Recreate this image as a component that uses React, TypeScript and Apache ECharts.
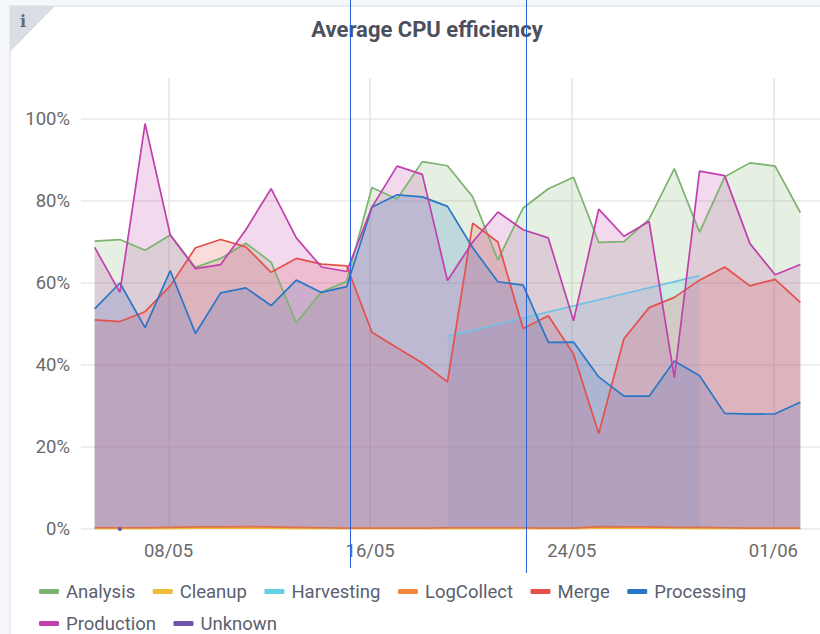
import React, { useEffect, useRef } from "react";
import * as echarts from "echarts";

const title = "Average CPU efficiency";
const tickDays = [3, 11, 19, 27];
const tickLabels = ["08/05", "16/05", "24/05", "01/06"];
const yTicks = [0, 20, 40, 60, 80, 100];

const analysis = [70.2, 70.6, 68, 71.7, 63.8, 66, 69.7, 65.1, 50.3, 57.8, 60.4, 83.3, 80.5, 89.6, 88.6, 81, 65.6, 78.3, 83, 85.8, 69.9, 70.1, 75.6, 87.9, 72.4, 85.9, 89.3, 88.5, 77.2];
const cleanup = [0.1, 0.1, 0.1, 0.1, 0.2, 0.2, 0.2, 0.2, 0.1, 0.1, 0.1, 0.1, 0.1, 0.1, 0.1, 0.1, 0.1, 0.1, 0.1, 0.1, 0.2, 0.2, 0.2, 0.2, 0.1, 0.1, 0.1, 0.1, 0.1];
const harvestingDays = [14, 24];
const harvesting = [47, 61.8];
const logCollect = [0.3, 0.3, 0.3, 0.4, 0.5, 0.5, 0.6, 0.5, 0.4, 0.3, 0.2, 0.2, 0.2, 0.2, 0.3, 0.3, 0.3, 0.3, 0.2, 0.2, 0.6, 0.5, 0.5, 0.4, 0.4, 0.3, 0.2, 0.2, 0.2];
const merge = [51, 50.6, 53, 59.3, 68.6, 70.6, 68.8, 62.6, 66, 64.6, 64.2, 48, 44.2, 40.5, 35.9, 74.6, 70, 48.9, 52, 42.7, 23.3, 46.4, 54, 56.5, 60.7, 63.9, 59.3, 60.9, 55.3];
const processing = [53.7, 60, 49.1, 63, 47.7, 57.6, 58.8, 54.5, 60.7, 57.7, 59.1, 78.5, 81.5, 81, 78.7, 68.6, 60.3, 59.5, 45.5, 45.6, 37.1, 32.4, 32.4, 41, 37.4, 28.2, 28, 28.1, 30.9];
const production = [68.7, 57.7, 98.9, 71.7, 63.5, 64.5, 73, 83, 71, 63.9, 62.8, 78.5, 88.5, 86.5, 60.6, 70, 77.3, 73, 71, 50.8, 78, 71.4, 75, 36.9, 87.3, 86.2, 69.6, 62, 64.5];
const unknownDays = [1];
const unknown = [0];

const names = ["Analysis", "Cleanup", "Harvesting", "LogCollect", "Merge", "Processing", "Production", "Unknown"];
const colors = ["#7cb36f", "#eebc3d", "#63d1e4", "#f4873c", "#e4504b", "#2a77c6", "#c040ac", "#6d54a6"];
const lineColors = ["#7cb36f", "#eebc3d", "#74c0e2", "#de7148", "#e4504b", "#2a77c6", "#c040ac", "#6d54a6"];

const SHIFT = 0.07;
const daily = (vals: number[]) => vals.map((v, i) => [i + SHIFT, v]);
const sparse = (days: number[], vals: number[]) => vals.map((v, i) => [days[i] + SHIFT, v]);

const seriesData = [
  daily(analysis),
  daily(cleanup),
  sparse(harvestingDays, harvesting),
  daily(logCollect),
  daily(merge),
  daily(processing),
  daily(production),
  sparse(unknownDays, unknown),
];

const legendBase = {
  left: 34,
  width: 785,
  itemWidth: 20,
  itemHeight: 5,
  itemGap: 17.5,
  icon: "roundRect",
  textStyle: {
    fontFamily: "Roboto",
    fontSize: 18.5,
    color: "#5a6070",
    padding: [0, 0, 0, 2],
  },
};

export default function App() {
  const ref = useRef<HTMLDivElement>(null);
  useEffect(() => {
    const chart = echarts.init(ref.current!, undefined, { renderer: "svg" });
    chart.setOption({
      animation: false,
      color: colors,
      textStyle: { fontFamily: "Roboto" },
      title: {
        text: title,
        left: 422,
        top: 13,
        textAlign: "center",
        textStyle: { fontFamily: "Roboto", fontSize: 22, fontWeight: 700, color: "#4b505c" },
      },
      legend: [
        { ...legendBase, top: 577, data: names.slice(0, 6) },
        { ...legendBase, top: 609, data: names.slice(6) },
      ],
      grid: { left: 81, right: 0, top: 78, bottom: 105 },
      xAxis: {
        type: "value",
        min: -0.472,
        max: 28.85,
        axisLine: { show: false },
        axisTick: { show: false, customValues: tickDays },
        axisLabel: {
          customValues: tickDays,
          formatter: (v: number) => tickLabels[tickDays.indexOf(v)] ?? "",
          fontSize: 18.5,
          color: "#6a6a6a",
          margin: 12,
          fontFamily: "Roboto",
          hideOverlap: false,
          showMinLabel: true,
          showMaxLabel: true,
        },
        splitLine: { show: true, lineStyle: { color: "#e4e4e6", width: 1.5 } },
      },
      yAxis: {
        type: "value",
        min: 0,
        max: 110,
        axisLine: { show: false },
        axisTick: { show: false, customValues: yTicks },
        axisLabel: {
          customValues: yTicks,
          formatter: "{value}%",
          fontSize: 18.5,
          color: "#6a6a6a",
          margin: 11,
          fontFamily: "Roboto",
        },
        splitLine: { show: true, lineStyle: { color: "#e8e8ea", width: 1.5 } },
      },
      series: names.map((name, i) => ({
        name,
        type: "line",
        data: seriesData[i],
        symbol: name === "Unknown" ? "circle" : "none",
        symbolSize: 4,
        showSymbol: name === "Unknown",
        lineStyle: { width: 1.7, color: lineColors[i] },
        itemStyle: { color: colors[i] },
        areaStyle: { color: colors[i], opacity: 0.2 },
      })),
      graphic: [
        { type: "rect", z: -20, shape: { x: 0, y: 0, width: 820, height: 634 }, style: { fill: "#f5f7fa" } },
        { type: "rect", z: -19, shape: { x: 10, y: 6, width: 812, height: 640 }, style: { fill: "#ffffff", stroke: "#e3e8f1", lineWidth: 1.5 } },
        { type: "polygon", z: -18, shape: { points: [[10, 6], [55, 6], [10, 52]] }, style: { fill: "#d9dde4" } },
        { type: "text", z: -17, x: 23, y: 21, style: { text: "i", fill: "#666a70", font: "bold 16px 'DejaVu Serif'", textAlign: "center", textVerticalAlign: "middle" } },
        { type: "line", z: 100, shape: { x1: 350.5, y1: 0, x2: 350.5, y2: 568 }, style: { stroke: "#2a62d8", lineWidth: 1 } },
        { type: "line", z: 100, shape: { x1: 526.5, y1: 0, x2: 526.5, y2: 573 }, style: { stroke: "#2a62d8", lineWidth: 1 } },
      ],
    });
    return () => chart.dispose();
  }, []);
  return (
    <div
      ref={ref}
      style={{ position: "absolute", left: 0, top: 0, width: 820, height: 634 }}
    />
  );
}
